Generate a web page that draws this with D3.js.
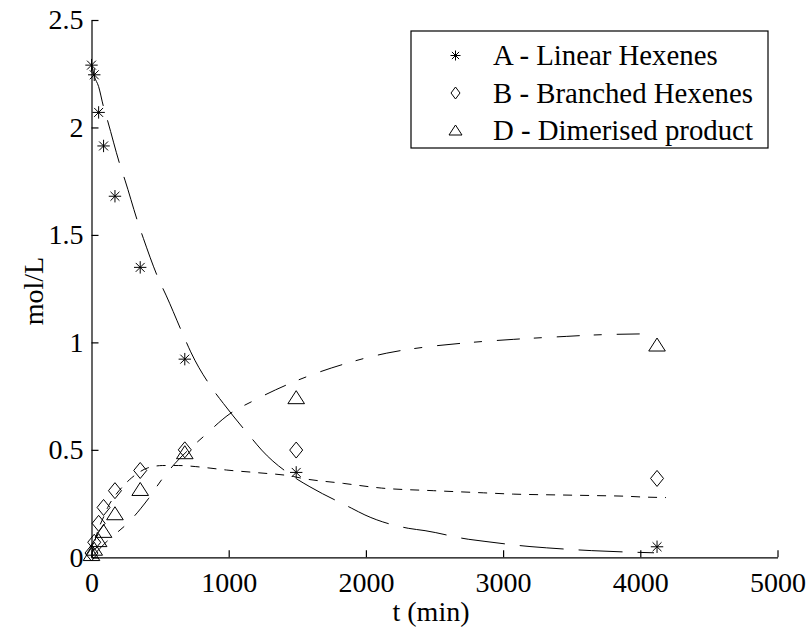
<!DOCTYPE html>
<html>
<head>
<meta charset="utf-8">
<script src="https://cdn.jsdelivr.net/npm/d3@7"></script>
<style>
  html, body { margin: 0; padding: 0; background: #fff; }
  svg { display: block; }
  text { font-family: "Liberation Serif", "Times New Roman", serif; fill: #000; }
</style>
</head>
<body>
<svg id="chart" width="811" height="630"></svg>
<script>
// Measured concentrations (mol/L) versus time (min)
const times = [0, 20, 52, 88, 171, 355, 680, 1492, 4122];
const linearHexenes = [2.29, 2.245, 2.07, 1.914, 1.68, 1.349, 0.922, 0.395, 0.049];
const branchedHexenes = [0.02, 0.07, 0.158, 0.232, 0.31, 0.404, 0.5, 0.499, 0.367];
const dimerisedProduct = [0.015, 0.04, 0.08, 0.123, 0.205, 0.318, 0.489, 0.745, 0.99];

// Fitted model curves: [t, concentration]
const modelA = [[0,2.297],[20,2.24],[52,2.19],[86,2.1],[118,2.03],[208,1.825],[244,1.755],[341,1.553],
  [378,1.484],[492,1.29],[543,1.22],[674,1.026],[723,0.956],[888,0.778],[961,0.716],[1168,0.553],
  [1240,0.499],[1471,0.375],[1592,0.328],[1897,0.228],[1993,0.197],[2309,0.135],[2431,0.124],
  [2746,0.084],[2868,0.074],[3196,0.05],[3318,0.044],[3646,0.031],[4100,0.021]];
const modelB = [[0,0],[15,0.05],[33,0.096],[57,0.142],[90,0.19],[118,0.232],[170,0.285],[239,0.337],
  [275,0.36],[341,0.393],[410,0.416],[519,0.427],[633,0.427],[760,0.422],[864,0.415],[985,0.406],
  [1204,0.394],[1471,0.376],[1523,0.369],[1835,0.344],[2115,0.322],[2491,0.31],[2856,0.3],
  [3074,0.294],[3415,0.29],[3682,0.287],[3901,0.284],[3998,0.281],[4187,0.278]];
const modelD = [[0,0],[62,0.042],[106,0.07],[208,0.127],[239,0.144],[337,0.21],[385,0.248],[414,0.272],
  [510,0.36],[609,0.437],[815,0.561],[1009,0.668],[1179,0.728],[1447,0.809],[1592,0.846],[1872,0.905],
  [2152,0.95],[2443,0.979],[2735,0.998],[3074,1.014],[3464,1.028],[3646,1.034],[4095,1.04]];

const xTicks = [0, 1000, 2000, 3000, 4000, 5000];
const xTickLabels = ["0", "1000", "2000", "3000", "4000", "5000"];
const yTicks = [0, 0.5, 1, 1.5, 2, 2.5];
const yTickLabels = ["0", "0.5", "1", "1.5", "2", "2.5"];
const legendLabels = ["A - Linear Hexenes", "B - Branched Hexenes", "D - Dimerised product"];

const svg = d3.select("#chart");
const plotLeft = 91.5, plotRight = 777.5, plotTop = 20, plotBottom = 557.3;

const x = d3.scaleLinear().domain([0, 5000]).range([plotLeft, plotRight]);
const y = d3.scaleLinear().domain([0, 2.5]).range([plotBottom, plotTop]);

// Axes with inward ticks, no box
const xAxis = d3.axisBottom(x).tickValues(xTicks)
  .tickFormat((d, i) => xTickLabels[i]).tickSizeInner(-7).tickSizeOuter(0).tickPadding(15);
const yAxis = d3.axisLeft(y).tickValues(yTicks)
  .tickFormat((d, i) => yTickLabels[i]).tickSizeInner(-7).tickSizeOuter(0).tickPadding(8);

const gx = svg.append("g").attr("transform", `translate(0,${plotBottom})`).call(xAxis);
const gy = svg.append("g").attr("transform", `translate(${plotLeft},0)`).call(yAxis);
[gx, gy].forEach(g => {
  g.selectAll("path, line").attr("stroke", "#000").attr("stroke-width", 1.2);
  g.selectAll("text").attr("font-size", 28).attr("font-family", "Liberation Serif");
});

// Model curves
const line = d3.line().x(d => x(d[0])).y(d => y(d[1])).curve(d3.curveMonotoneX);
const curves = [
  { data: modelA, dash: "44,15" },
  { data: modelB, dash: "9,8" },
  { data: modelD, dash: "23,14,8,15" }
];
svg.append("g").selectAll("path").data(curves).join("path")
  .attr("d", d => line(d.data))
  .attr("fill", "none").attr("stroke", "#000").attr("stroke-width", 1)
  .attr("stroke-dasharray", d => d.dash);

// Marker shapes
function starPath(r) {
  const k = r * 0.72;
  return `M${-r},0L${r},0M0,${-r}L0,${r}M${-k},${-k}L${k},${k}M${-k},${k}L${k},${-k}`;
}
function diamondPath(w, h) {
  return `M0,${-h}L${w},0L0,${h}L${-w},0Z`;
}
function trianglePath(w, h) {
  return `M0,${-h}L${w},${h}L${-w},${h}Z`;
}

const markerStyle = sel => sel.attr("fill", "none").attr("stroke", "#000").attr("stroke-width", 1);

const pts = svg.append("g");
pts.selectAll(".a").data(times).join("path")
  .attr("transform", (t, i) => `translate(${x(t)},${y(linearHexenes[i])})`)
  .attr("d", starPath(6.2)).call(markerStyle);
pts.selectAll(".b").data(times).join("path")
  .attr("transform", (t, i) => `translate(${x(t)},${y(branchedHexenes[i])})`)
  .attr("d", diamondPath(6.5, 8)).call(markerStyle);
pts.selectAll(".d").data(times).join("path")
  .attr("transform", (t, i) => `translate(${x(t)},${y(dimerisedProduct[i])})`)
  .attr("d", trianglePath(8.3, 6.5)).call(markerStyle);

// Legend
const lg = svg.append("g");
lg.append("rect").attr("x", 411).attr("y", 31).attr("width", 357).attr("height", 117)
  .attr("fill", "#fff").attr("stroke", "#000").attr("stroke-width", 1.2);
const legendShapes = [starPath(5), diamondPath(4.5, 6), trianglePath(6.5, 5)];
const rowY = [55.5, 93, 130];
legendLabels.forEach((label, i) => {
  lg.append("path").attr("transform", `translate(455.5,${rowY[i]})`)
    .attr("d", legendShapes[i]).call(markerStyle);
  lg.append("text").attr("x", 493).attr("y", rowY[i]).attr("dy", "0.33em")
    .attr("font-size", 28.8).text(label);
});

// Axis titles
svg.append("text").attr("x", 431).attr("y", 621).attr("text-anchor", "middle")
  .attr("font-size", 28).text("t (min)");
svg.append("text").attr("transform", "translate(43,291) rotate(-90)")
  .attr("text-anchor", "middle").attr("font-size", 28).text("mol/L");
</script>
</body>
</html>
